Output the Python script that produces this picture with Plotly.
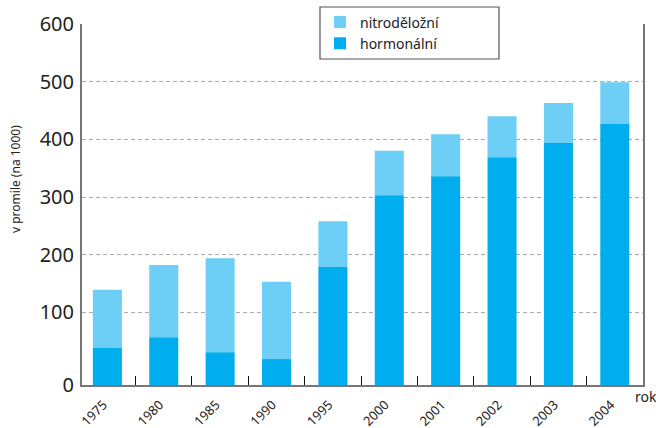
import plotly.graph_objects as go

# ── DATA ──────────────────────────────────────────────
years = ["1975", "1980", "1985", "1990", "1995", "2000", "2001", "2002", "2003", "2004"]
hormonalni = [38, 57, 31, 19, 179, 303, 336, 369, 394, 427]
nitrodelozni = [101, 125, 163, 134, 79, 77, 73, 71, 69, 72]

y_ticks = [100, 200, 300, 400, 500, 600]

# axis floor sits a bit below zero in the original drawing
Y_MIN = -26

C_HORM = "#00aeef"
C_NITRO = "#6dcff6"
FONT = "Noto Sans"

fig = go.Figure()
fig.add_trace(go.Bar(x=years, y=nitrodelozni, base=hormonalni, name="nitroděložní",
                     marker_color=C_NITRO, marker_line_width=0, width=0.515))
fig.add_trace(go.Bar(x=years, y=[h - Y_MIN for h in hormonalni], base=Y_MIN,
                     name="hormonální", marker_color=C_HORM, marker_line_width=0,
                     width=0.515))

fig.update_layout(
    width=656, height=428,
    margin=dict(l=82, r=13, t=24, b=43, autoexpand=False),
    plot_bgcolor="white", paper_bgcolor="white",
    barmode="overlay",
    font=dict(family=FONT, color="#222"),
    showlegend=True,
    legend=dict(x=(320 - 82) / 561, y=(385 - 6.5) / 361, xanchor="left", yanchor="top",
                bgcolor="rgba(0,0,0,0)", borderwidth=0,
                font=dict(size=14, family=FONT, color="#222"),
                tracegroupgap=0, itemsizing="constant"),
)

# legend frame
fig.add_shape(type="rect", xref="paper", yref="paper",
              x0=(320 - 82) / 561, x1=(499 - 82) / 561,
              y0=(385 - 59) / 361, y1=(385 - 7) / 361,
              fillcolor="white", line=dict(color="#555", width=1.2), layer="above")

fig.update_xaxes(
    type="category", range=[-0.45, 9.5],
    showline=True, linecolor="#777", linewidth=2,
    ticks="inside", tickson="boundaries", ticklen=9, tickcolor="#111", tickwidth=1,
    tickangle=-45, tickfont=dict(size=13, family=FONT, color="#222"),
    ticklabelstandoff=5, ticklabelshift=-4,
    showgrid=False, automargin=False,
)
fig.update_yaxes(
    range=[Y_MIN, 600],
    tickvals=[Y_MIN] + y_ticks, ticktext=["0"] + [str(t) for t in y_ticks],
    tickfont=dict(size=20, family=FONT, color="#222"),
    showline=True, linecolor="#777", linewidth=2, mirror=True,
    ticks="", ticklabelstandoff=2,
    showgrid=True, gridcolor="#aaa", gridwidth=1.3, griddash="4px,3px",
    zeroline=False, automargin=False,
)

fig.add_annotation(text="v promile (na 1000)", xref="paper", yref="paper",
                   x=(15 - 82) / 561, y=(385 - 179) / 361, textangle=-90,
                   xanchor="center", yanchor="middle",
                   showarrow=False, font=dict(size=12, family=FONT, color="#222"))
fig.add_annotation(text="rok", xref="paper", yref="paper",
                   x=(633 - 82) / 561, y=(385 - 397) / 361, xanchor="left", yanchor="middle",
                   showarrow=False, font=dict(size=14, family=FONT, color="#222"))

# drop the browser's default 8px body margin so the figure sits at the page corner
fig.write_html("out.html", config={"displayModeBar": False},
               post_script="document.body.style.margin='0';")
